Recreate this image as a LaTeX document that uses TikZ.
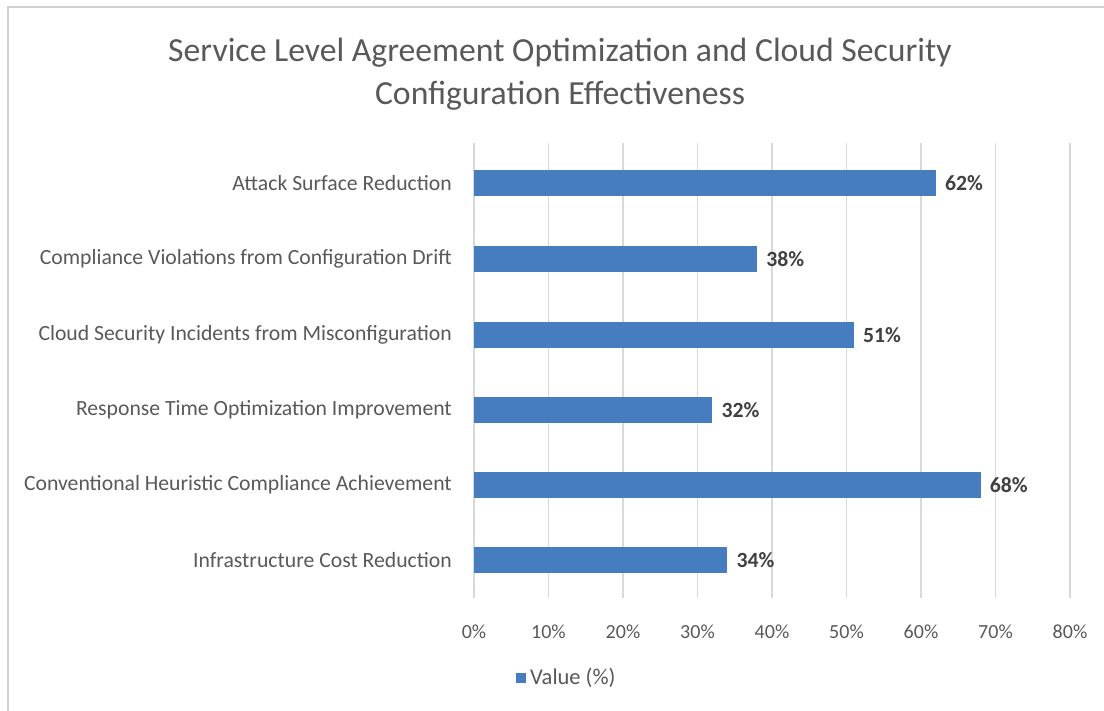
\documentclass[tikz,border=0pt]{standalone}
\usepackage{fontspec}
\setmainfont{Carlito}
\definecolor{barblue}{RGB}{70,125,190}
\definecolor{txtgray}{RGB}{89,89,89}
\definecolor{lblgray}{RGB}{64,64,64}
\definecolor{gridgray}{RGB}{217,217,217}
\definecolor{framegray}{RGB}{208,208,208}
\begin{document}
\begin{tikzpicture}[x=1pt,y=-1pt,
  cattext/.style={anchor=east,inner sep=0pt,text=txtgray,font=\fontsize{21.7}{25}\selectfont},
  valtext/.style={anchor=west,inner sep=0pt,text=lblgray,font=\fontsize{21.7}{25}\selectfont\bfseries},
  ticktext/.style={anchor=center,inner sep=0pt,text=txtgray,font=\fontsize{20}{24}\selectfont},
  gridline/.style={draw=gridgray,line width=1.4pt},
  barfill/.style={fill=barblue}]
\useasboundingbox (0,0) rectangle (1104,711);
\fill[white] (0,0) rectangle (1104,711);
% chart frame (top and left edges visible)
\draw[framegray,line width=2pt] (8,711) -- (8,7) -- (1104,7);
% title
\node[inner sep=0pt,text=txtgray,font=\fontsize{33.7}{43}\selectfont,align=center] (title) at (560,74)
  {Service Level Agreement Optimization and Cloud Security\\Configuration Effectiveness};
% vertical gridlines with percentage ticks, 0% to 80%
\foreach \i/\t in {0/0,1/10,2/20,3/30,4/40,5/50,6/60,7/70,8/80} {
  \draw[gridline] ({474+74.5*\i},143) -- ({474+74.5*\i},598);
  \node[ticktext] (tick\i) at ({474+74.5*\i},632) {\t\%};
}
% bars with category and value labels
\foreach \n/\yy/\v/\lab in {
  1/183/62/Attack Surface Reduction,
  2/259/38/Compliance Violations from Configuration Drift,
  3/335/51/Cloud Security Incidents from Misconfiguration,
  4/410/32/Response Time Optimization Improvement,
  5/485/68/Conventional Heuristic Compliance Achievement,
  6/560/34/Infrastructure Cost Reduction} {
  \fill[barfill] (474,{\yy-13}) rectangle ({474+7.45*\v},{\yy+13});
  \node[cattext] (cat\n) at (452,\yy) {\lab};
  \node[valtext] (val\n) at ({474+7.45*\v+9},\yy) {\v\%};
}
% legend
\fill[barblue] (516,673) rectangle (526,683);
\node[anchor=west,inner sep=0pt,text=txtgray,font=\fontsize{22.5}{26}\selectfont] (legend) at (530,678) {Value (\%)};
\end{tikzpicture}
\end{document}
